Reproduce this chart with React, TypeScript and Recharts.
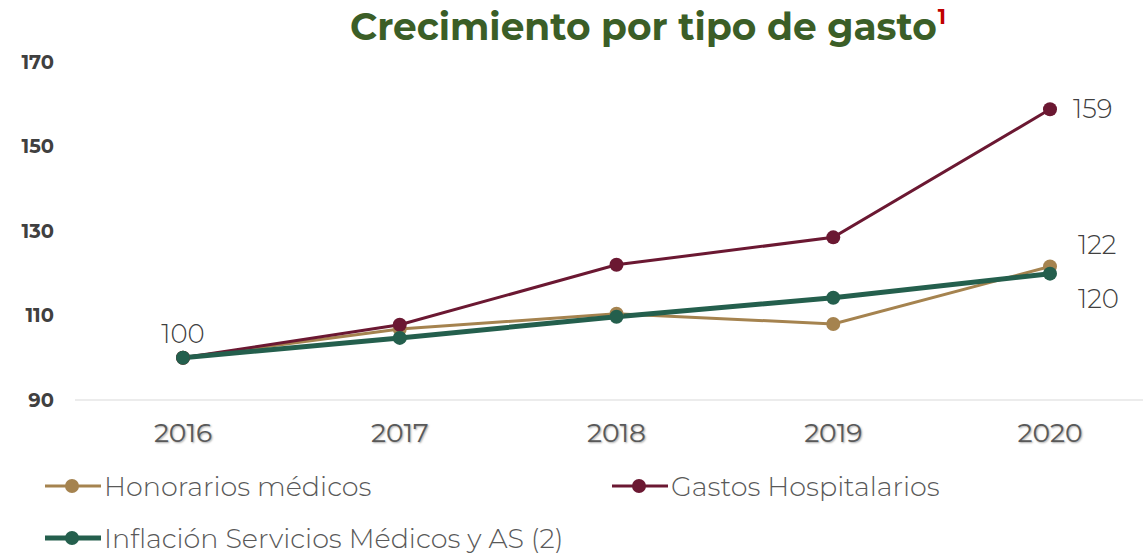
import { LineChart, Line, XAxis, YAxis, LabelList } from 'recharts'

const years = ['2016', '2017', '2018', '2019', '2020']
const honorarios = [100, 106.8, 110.4, 108.0, 121.6]
const gastos = [100, 107.8, 122.0, 128.5, 158.8]
const inflacion = [100, 104.7, 109.7, 114.2, 119.9]
const yTicks = [90, 110, 130, 150, 170]
const boundaryTicks = [-0.5, 0.5, 1.5, 2.5, 3.5, 4.5]

const FONT = "Montserrat, Inter, 'Noto Sans', sans-serif"

const series = [
  { key: 'honorarios', name: 'Honorarios médicos', color: '#A5834F', width: 3, values: honorarios },
  { key: 'gastos', name: 'Gastos Hospitalarios', color: '#6B1832', width: 3, values: gastos },
  { key: 'inflacion', name: 'Inflación Servicios Médicos y AS (2)', color: '#245F4D', width: 5, values: inflacion },
]

const data = years.map((year, i) => ({
  year,
  slot: i,
  honorarios: honorarios[i],
  gastos: gastos[i],
  inflacion: inflacion[i],
}))

// which point gets a value label, and where the text sits relative to the point
const labelSpots: Record<string, Record<number, { dx: number; dy: number; anchor: string }>> = {
  honorarios: { 4: { dx: 28, dy: -21, anchor: 'start' } },
  gastos: { 0: { dx: 0, dy: -24, anchor: 'middle' }, 4: { dx: 23, dy: 0, anchor: 'start' } },
  inflacion: { 4: { dx: 28, dy: 25, anchor: 'start' } },
}

function makeLabel(key: string) {
  return (props: any) => {
    const spot = labelSpots[key][props.index]
    if (!spot) return null
    return (
      <text
        x={props.x + spot.dx}
        y={props.y + spot.dy}
        textAnchor={spot.anchor}
        dominantBaseline="central"
        fontSize={26}
        fontWeight={300}
        fill="#404040"
        fontFamily={FONT}
      >
        {Math.round(props.value)}
      </text>
    )
  }
}

export default function App() {
  return (
    <div style={{ position: 'fixed', left: 0, top: 0, width: 1143, height: 553, overflow: 'hidden', background: '#fff', fontFamily: FONT }}>
      <div style={{ position: 'absolute', left: 0, width: 1296, top: 4, textAlign: 'center', fontSize: 37.5, fontWeight: 700, color: '#3B5E27', whiteSpace: 'nowrap' }}>
        Crecimiento por tipo de gasto
        <sup style={{ color: '#C00000', fontSize: 21, verticalAlign: 'top', position: 'relative', top: 0, marginLeft: 1 }}>1</sup>
      </div>

      <LineChart width={1165} height={553} data={data} margin={{ top: 62, right: 7, bottom: 104, left: 0 }}>
        <XAxis
          xAxisId="b"
          dataKey="year"
          padding={{ left: 108, right: 108 }}
          axisLine={false}
          tickLine={false}
          tickMargin={16}
          height={48}
          tick={{ fontSize: 26.5, fill: '#595959', fontFamily: FONT, style: { textShadow: '1px 1px 2px rgba(0,0,0,0.35)' } }}
        />
        <XAxis
          xAxisId="a"
          type="number"
          dataKey="slot"
          domain={[-0.5, 4.5]}
          ticks={boundaryTicks}
          allowDataOverflow
          tick={false}
          height={1}
          tickSize={8}
          stroke="#D9D9D9"
        />
        <YAxis
          domain={[90, 170]}
          ticks={yTicks}
          axisLine={false}
          tickLine={false}
          width={75}
          tickMargin={15}
          tick={{ fontSize: 19.5, fontWeight: 700, fill: '#404040', fontFamily: FONT }}
        />
        {series.map(s => (
          <Line
            key={s.key}
            xAxisId="b"
            dataKey={s.key}
            name={s.name}
            type="linear"
            stroke={s.color}
            strokeWidth={s.width}
            dot={{ r: 7, fill: s.color, stroke: s.color, strokeWidth: 0 }}
            activeDot={false}
            isAnimationActive={false}
          >
            <LabelList dataKey={s.key} content={makeLabel(s.key)} />
          </Line>
        ))}
      </LineChart>

      {series.map((s, i) => {
        const left = i === 1 ? 612 : 45
        const top = i === 2 ? 538 : 486
        return (
          <div key={s.key} style={{ position: 'absolute', left, top: top - 17, height: 34, display: 'flex', alignItems: 'center', whiteSpace: 'nowrap' }}>
            <svg width={58} height={20}>
              <line x1={0} x2={56} y1={10} y2={10} stroke={s.color} strokeWidth={s.width} />
              <circle cx={27} cy={10} r={7} fill={s.color} />
            </svg>
            <span style={{ fontSize: 27, fontWeight: 300, color: '#595959', marginLeft: 1 }}>{s.name}</span>
          </div>
        )
      })}
    </div>
  )
}
